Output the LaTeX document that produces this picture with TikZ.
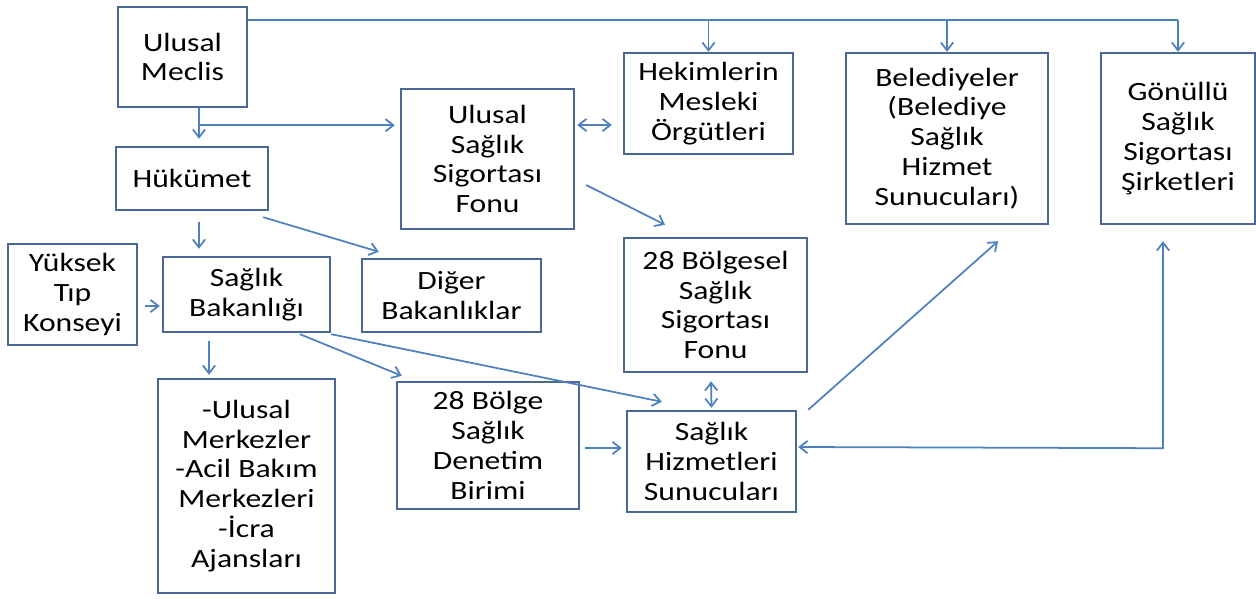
\documentclass[tikz,border=0pt]{standalone}
\usepackage{fontspec}
\setmainfont{Carlito}[FakeStretch=1.2]
\usetikzlibrary{arrows.meta}
\usetikzlibrary{calc}
\definecolor{boxblue}{RGB}{74,104,152}
\definecolor{arrowblue}{RGB}{79,129,189}
\tikzset{box/.style={draw=boxblue, line width=1.4pt, align=center,
         inner sep=0pt, font=\fontsize{15}{17}\selectfont},
         link/.style={draw=arrowblue, line width=1pt},
         arr/.style={link, -{Straight Barb[length=4.5pt,width=7pt]}},
         darr/.style={link, {Straight Barb[length=4.5pt,width=7pt]}-{Straight Barb[length=4.5pt,width=7pt]}}}

\begin{document}
\begin{tikzpicture}[x=0.02cm, y=-0.02cm]
        \useasboundingbox (0,0) rectangle (1256,598);

        % Boxes
        \node[box, minimum width=2.58cm, minimum height=2.00cm] (meclis) at (182.5,57) {Ulusal\\Meclis};
        \node[box, minimum width=3.04cm, minimum height=1.26cm] (hukumet) at (192,178.5) {Hükümet};
        \node[box, minimum width=2.58cm, minimum height=2.02cm] (yuksek) at (72.5,294.5) {Yüksek\\Tıp\\Konseyi};
        \node[box, minimum width=3.34cm, minimum height=1.50cm] (bakanlik) at (246.5,294.5) {Sağlık\\Bakanlığı};
        \node[box, minimum width=3.58cm, minimum height=1.46cm] (diger) at (451.5,295.5) {Diğer\\Bakanlıklar};
        \node[box, minimum width=3.46cm, minimum height=2.80cm] (fon) at (487.5,159) {Ulusal\\Sağlık\\Sigortası\\Fonu};
        \node[box, minimum width=3.38cm, minimum height=2.02cm] (hekim) at (708.5,103.5) {Hekimlerin\\Mesleki\\Örgütleri};
        \node[box, minimum width=4.04cm, minimum height=3.42cm] (beled) at (947,138.5) {Belediyeler\\(Belediye\\Sağlık\\Hizmet\\Sunucuları)};
        \node[box, minimum width=3.08cm, minimum height=3.42cm] (gonullu) at (1178,138.5) {Gönüllü\\Sağlık\\Sigortası\\Şirketleri};
        \node[box, minimum width=3.66cm, minimum height=2.68cm] (bolgesel) at (715.5,305) {28 Bölgesel\\Sağlık\\Sigortası\\Fonu};
        \node[box, minimum width=3.54cm, minimum height=4.28cm] (merkez) at (246.5,486) {-Ulusal\\Merkezler\\-Acil Bakım\\Merkezleri\\-İcra\\Ajansları};
        \node[box, minimum width=3.64cm, minimum height=2.54cm] (denetim) at (488,445.5) {28 Bölge\\Sağlık\\Denetim\\Birimi};
        \node[box, minimum width=3.38cm, minimum height=2.02cm] (hizmet) at (711.5,461.5) {Sağlık\\Hizmetleri\\Sunucuları};

        % Top line from the Meclis
        \coordinate (topR) at ($(gonullu.north)+(0,-32)$);
        \draw[link] (meclis.east |- topR) -- (topR);
        \draw[arr] (hekim.north |- topR) -- (hekim.north);
        \draw[arr] (beled.north |- topR) -- (beled.north);
        \draw[arr] (topR) -- (gonullu.north);

        % Meclis down to Hükümet and across to the Fon
        \coordinate (mv) at ($(meclis.south)+(16.5,17)$);
        \draw[arr] ($(meclis.south)+(16.5,0)$) -- ($(hukumet.north)+(7,-7)$);
        \draw[arr] (mv) -- ($(mv -| fon.west)+(-5,0)$);
        \draw[darr] ($(fon.east)+(2,-34)$) -- ($(hekim.west)+(-11,21.5)$);
        \draw[arr] ($(fon.east)+(11,26)$) -- ($(bolgesel.north)+(-50.5,-12)$);

        % Hükümet
        \draw[arr] ($(hukumet.south)+(7,11)$) -- ($(bakanlik.north)+(-47.5,-7)$);
        \draw[arr] ($(hukumet.south east)+(-6,6)$) -- ($(diger.north west)+(18,-6)$);

        % Bakanlık
        \draw[arr] ($(yuksek.east)+(7,11.5)$) -- ($(bakanlik.west)+(-2,11.5)$);
        \draw[arr] ($(bakanlik.south)+(-37.5,8)$) -- ($(merkez.north)+(-37.5,-3)$);
        \draw[arr] ($(bakanlik.south)+(53.5,1)$) -- ($(denetim.north west)+(6,-5)$);
        \draw[arr] ($(bakanlik.south east)+(0,1)$) -- ($(hizmet.north west)+(36,-8)$);

        % Sağlık Hizmetleri Sunucuları
        \draw[arr] ($(denetim.east)+(5,2.5)$) -- ($(hizmet.west)+(-4,-13.5)$);
        \draw[darr] ($(bolgesel.south)+(-4.5,8)$) -- ($(hizmet.north)+(0,-2)$);
        \draw[arr] ($(hizmet.north east)+(11,0)$) -- ($(beled.south)+(51,16)$);
        \coordinate (gcorner) at ($(gonullu.south)+(-15,223)$);
        \draw[darr] ($(hizmet.east)+(1,-14.5)$) -- (gcorner) -- ($(gonullu.south)+(-15,16)$);
\end{tikzpicture}
\end{document}
